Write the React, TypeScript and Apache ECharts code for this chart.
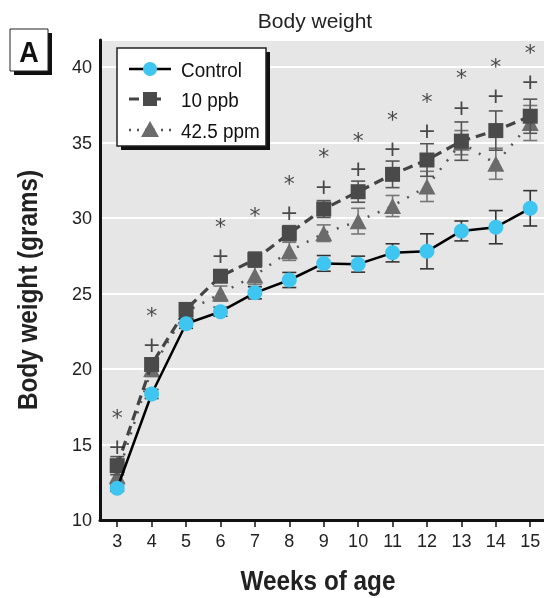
import React, { useEffect, useRef } from "react";
import * as echarts from "echarts";

const weeks = [3, 4, 5, 6, 7, 8, 9, 10, 11, 12, 13, 14, 15];
const yTicks = [10, 15, 20, 25, 30, 35, 40];
const controlMean = [12.1, 18.35, 23.0, 23.8, 25.05, 25.9, 27.0, 26.95, 27.7, 27.8, 29.15, 29.4, 30.65];
const controlSem = [0.2, 0.3, 0.3, 0.3, 0.4, 0.5, 0.52, 0.53, 0.6, 1.16, 0.66, 1.1, 1.17];
const ppbMean = [13.6, 20.3, 23.95, 26.15, 27.25, 29.0, 30.6, 31.75, 32.9, 33.85, 35.1, 35.8, 36.75];
const ppbSem = [0.6, 0.4, 0.3, 0.4, 0.5, 0.5, 0.56, 0.7, 0.88, 1.08, 1.27, 1.3, 1.13];
const ppmMean = [12.9, 20.0, 23.8, 25.0, 26.2, 27.8, 29.0, 29.8, 30.8, 32.1, 35.0, 33.6, 36.3];
const ppmSem = [0.4, 0.5, 0.3, 0.5, 0.6, 0.6, 0.55, 0.85, 0.7, 1.0, 0.8, 1.03, 1.16];
const asteriskWeeks = [3, 4, 6, 7, 8, 9, 10, 11, 12, 13, 14, 15];
const asteriskY = [17.1, 23.9, 29.75, 30.5, 32.6, 34.4, 35.5, 36.85, 38.05, 39.65, 40.4, 41.3];
const plusWeeks = [3, 4, 6, 8, 9, 10, 11, 12, 13, 14, 15];
const plusY = [14.9, 21.6, 27.5, 30.35, 32.1, 33.3, 34.6, 35.8, 37.3, 38.1, 39.05];
const seriesNames = ["Control", "10 ppb", "42.5 ppm"];
const chartTitle = "Body weight";
const xTitle = "Weeks of age";
const yTitle = "Body weight (grams)";
const panelLabel = "A";

const FONT = '"Liberation Sans", Arial, sans-serif';

function errSeries(name: string, means: number[], sems: number[], color: string, z: number) {
  return {
    type: "custom",
    name: name + " err",
    z,
    silent: true,
    data: weeks.map((w, i) => [w, means[i] - sems[i], means[i] + sems[i]]),
    encode: { x: 0, y: [1, 2] },
    renderItem: (params: any, api: any) => {
      const lo = api.coord([api.value(0), api.value(1)]);
      const hi = api.coord([api.value(0), api.value(2)]);
      const hw = 7;
      const style = { stroke: color, lineWidth: 1.6 };
      return {
        type: "group",
        children: [
          { type: "line", shape: { x1: lo[0], y1: lo[1], x2: hi[0], y2: hi[1] }, style },
          { type: "line", shape: { x1: lo[0] - hw, y1: lo[1], x2: lo[0] + hw, y2: lo[1] }, style },
          { type: "line", shape: { x1: hi[0] - hw, y1: hi[1], x2: hi[0] + hw, y2: hi[1] }, style },
        ],
      };
    },
  };
}

function markSeries(name: string, xs: number[], ys: number[], glyph: string, size: number, offsetY: number) {
  return {
    type: "scatter",
    name,
    z: 9,
    silent: true,
    symbol: "circle",
    symbolSize: 1,
    itemStyle: { color: "rgba(0,0,0,0)" },
    data: xs.map((w, i) => [w, ys[i]]),
    label: {
      show: true,
      position: "inside",
      formatter: glyph,
      fontSize: size,
      color: "#222",
      fontFamily: '"DejaVu Sans", sans-serif',
      offset: [0, offsetY],
    },
  };
}

export default function App() {
  const ref = useRef<HTMLDivElement>(null);
  useEffect(() => {
    if (!ref.current) return;
    const chart = echarts.init(ref.current, undefined, { renderer: "svg" });
    const lx1 = 129, lx2 = 171, lxc = 150, ltx = 181;
    const rows = [69, 99, 130];
    const option: any = {
      animation: false,
      textStyle: { fontFamily: FONT },
      grid: { left: 100, right: 0, top: 40, bottom: 78, show: true, backgroundColor: "#e6e6e6", borderWidth: 0 },
      xAxis: {
        type: "value",
        min: 2.5,
        max: 15.4,
        axisLine: { show: true, lineStyle: { color: "#111", width: 3 } },
        axisTick: { show: true, customValues: weeks, length: 7, lineStyle: { color: "#111", width: 1.5 } },
        axisLabel: { customValues: weeks, fontSize: 18, color: "#222", margin: 12, fontFamily: FONT },
        splitLine: { show: false },
      },
      yAxis: {
        type: "value",
        min: 10,
        max: 41.8,
        interval: 5,
        axisLine: { show: true, lineStyle: { color: "#111", width: 3 } },
        axisTick: { show: false },
        axisLabel: { customValues: yTicks, fontSize: 18, color: "#222", margin: 8, fontFamily: FONT },
        splitLine: { show: true, lineStyle: { color: "#ffffff", width: 2 } },
      },
      series: [
        errSeries("42.5 ppm", ppmMean, ppmSem, "#777", 2),
        {
          type: "line",
          name: seriesNames[2],
          z: 3,
          data: weeks.map((w, i) => [w, ppmMean[i]]),
          symbol: "triangle",
          symbolSize: [17, 16],
          itemStyle: { color: "#6b6b6b" },
          lineStyle: { color: "#555", width: 2.5, type: [2, 9] },
        },
        errSeries("10 ppb", ppbMean, ppbSem, "#555", 4),
        {
          type: "line",
          name: seriesNames[1],
          z: 5,
          data: weeks.map((w, i) => [w, ppbMean[i]]),
          symbol: "rect",
          symbolSize: 15,
          itemStyle: { color: "#4a4a4a" },
          lineStyle: { color: "#444", width: 3.2, type: [10, 6] },
        },
        errSeries("Control", controlMean, controlSem, "#333", 6),
        {
          type: "line",
          name: seriesNames[0],
          z: 7,
          data: weeks.map((w, i) => [w, controlMean[i]]),
          symbol: "circle",
          symbolSize: 15,
          itemStyle: { color: "#3ec6f0" },
          lineStyle: { color: "#000", width: 2.5 },
        },
        markSeries("asterisk", asteriskWeeks, asteriskY, "*", 22, 5),
        markSeries("plus", plusWeeks, plusY, "+", 22, 0),
      ],
      graphic: [
        { type: "rect", z: 20, shape: { x: 14, y: 33, width: 38, height: 42 }, style: { fill: "#111" } },
        { type: "rect", z: 21, shape: { x: 10, y: 29, width: 38, height: 42 }, style: { fill: "#fff", stroke: "#222", lineWidth: 1 } },
        { type: "text", z: 22, x: 29, y: 51, scaleX: 0.9, style: { text: panelLabel, fontSize: 30, fontWeight: "bold", fontFamily: FONT, fill: "#111", align: "center", verticalAlign: "middle" } },
        { type: "text", z: 22, x: 315, y: 20, style: { text: chartTitle, fontSize: 21, fontFamily: FONT, fill: "#222", align: "center", verticalAlign: "middle" } },
        { type: "text", z: 22, x: 318, y: 581, scaleX: 0.9, style: { text: xTitle, fontSize: 27, fontWeight: "bold", fontFamily: FONT, fill: "#222", align: "center", verticalAlign: "middle" } },
        { type: "text", z: 22, x: 28, y: 290, rotation: Math.PI / 2, scaleX: 0.9, style: { text: yTitle, fontSize: 27, fontWeight: "bold", fontFamily: FONT, fill: "#222", align: "center", verticalAlign: "middle" } },
        { type: "rect", z: 20, shape: { x: 121, y: 52, width: 149, height: 98 }, style: { fill: "#111" } },
        { type: "rect", z: 21, shape: { x: 117, y: 48, width: 149, height: 98 }, style: { fill: "#fff", stroke: "#222", lineWidth: 1.5 } },
        { type: "line", z: 22, shape: { x1: lx1, y1: rows[0], x2: lx2, y2: rows[0] }, style: { stroke: "#000", lineWidth: 2.5 } },
        { type: "circle", z: 23, shape: { cx: lxc, cy: rows[0], r: 7 }, style: { fill: "#3ec6f0" } },
        { type: "line", z: 22, shape: { x1: lx1, y1: rows[1], x2: lx2, y2: rows[1] }, style: { stroke: "#444", lineWidth: 3.2, lineDash: [10, 12] } },
        { type: "rect", z: 23, shape: { x: lxc - 7, y: rows[1] - 7, width: 14, height: 14 }, style: { fill: "#4a4a4a" } },
        { type: "line", z: 22, shape: { x1: lx1, y1: rows[2], x2: lx2, y2: rows[2] }, style: { stroke: "#555", lineWidth: 2.5, lineDash: [2, 6] } },
        { type: "polygon", z: 23, shape: { points: [[lxc, rows[2] - 9], [lxc + 9, rows[2] + 7], [lxc - 9, rows[2] + 7]] }, style: { fill: "#6b6b6b" } },
        ...seriesNames.map((n, i) => ({
          type: "text",
          z: 23,
          x: ltx,
          y: rows[i] + 1,
          scaleX: 0.9,
          style: { text: n, fontSize: 21, fontFamily: FONT, fill: "#111", verticalAlign: "middle" },
        })),
      ],
    };
    chart.setOption(option);
    return () => chart.dispose();
  }, []);
  return <div ref={ref} style={{ position: "fixed", left: 0, top: 0, width: 544, height: 598 }} />;
}
